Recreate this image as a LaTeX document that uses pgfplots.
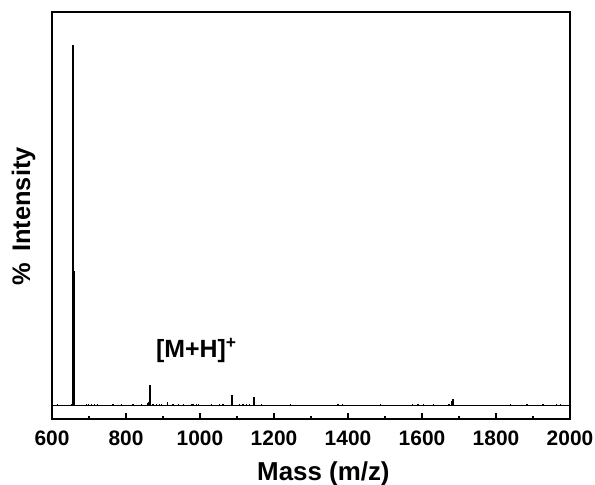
\documentclass[border=0pt]{standalone}
\usepackage{fontspec}
\setmainfont{Liberation Sans}
\usepackage{pgfplots}
\pgfplotsset{compat=1.18}
\begin{document}
\begin{tikzpicture}[x=1bp,y=1bp]
\useasboundingbox (0,0) rectangle (595,485);
\begin{axis}[
 at={(52bp,66bp)}, anchor=south west,
 scale only axis, width=518bp, height=407bp,
 xmin=600, xmax=2000, ymin=-3.69, ymax=109.1,
 xtick={600,800,...,2000}, minor x tick num=1,
 ytick=\empty,
 xtick pos=bottom, tick align=inside,
 major tick length=6bp, minor tick length=3bp,
 axis line style={line width=1.4bp},
 every tick/.style={line width=1.3bp, black},
 tick label style={font=\fontsize{21}{25}\selectfont\bfseries, yshift=-8bp},
 /pgf/number format/assume math mode=true,
 /pgf/number format/1000 sep={},
 xlabel={Mass (m/z)}, ylabel={\% \,Intensity},
 xlabel style={font=\fontsize{26}{30}\selectfont\bfseries, at={(axis description cs:0.524,-0.134)}, anchor=center},
 ylabel style={font=\fontsize{25.5}{29}\selectfont\bfseries, at={(axis description cs:-0.055,0.4975)}, anchor=center},
 clip=false,
]
% baseline
\addplot[black, line width=1.4bp] coordinates {(600,0) (2000,0)};
% peaks
\addplot[ycomb, black, line width=2bp] coordinates {
 (658,100) (660.5,37.4) (865,5.8) (1087.6,3.0) (1147,2.4) (1680,1.2) (1683,1.85)
};
% small noise peaks
\addplot[ycomb, black, line width=1.2bp] coordinates {
 (614.6,0.45) (652,0.6) (693,0.4) (699,0.4) (706,0.4) (715,0.4) (724,0.4)
 (765,0.35) (787,0.4) (819,0.35) (842,0.4) (859,0.8) (862,1.1) (873,0.6)
 (882,0.5) (891,0.5) (896,0.5) (912,0.9) (927,0.4) (941,0.4) (956,0.4)
 (977,0.5) (981,0.5) (990,0.6) (997,0.6) (1031,0.4) (1053,0.4) (1062,0.4)
 (1107,0.4) (1116,0.4) (1125,0.4) (1134,0.4) (1166,0.4) (1244,0.6)
 (1373,0.6) (1386,0.5) (1488,0.5) (1574,0.5) (1589,0.5) (1603,0.5)
 (1632,0.5) (1673,0.5) (1839,0.5) (1884,0.5) (1927,0.5) (1963,0.5) (1975,0.5)
};
\node[font=\fontsize{25}{29}\selectfont\bfseries] at (axis cs:990,15.4) {[M+H]\textsuperscript{+}};
\end{axis}
\end{tikzpicture}
\end{document}
